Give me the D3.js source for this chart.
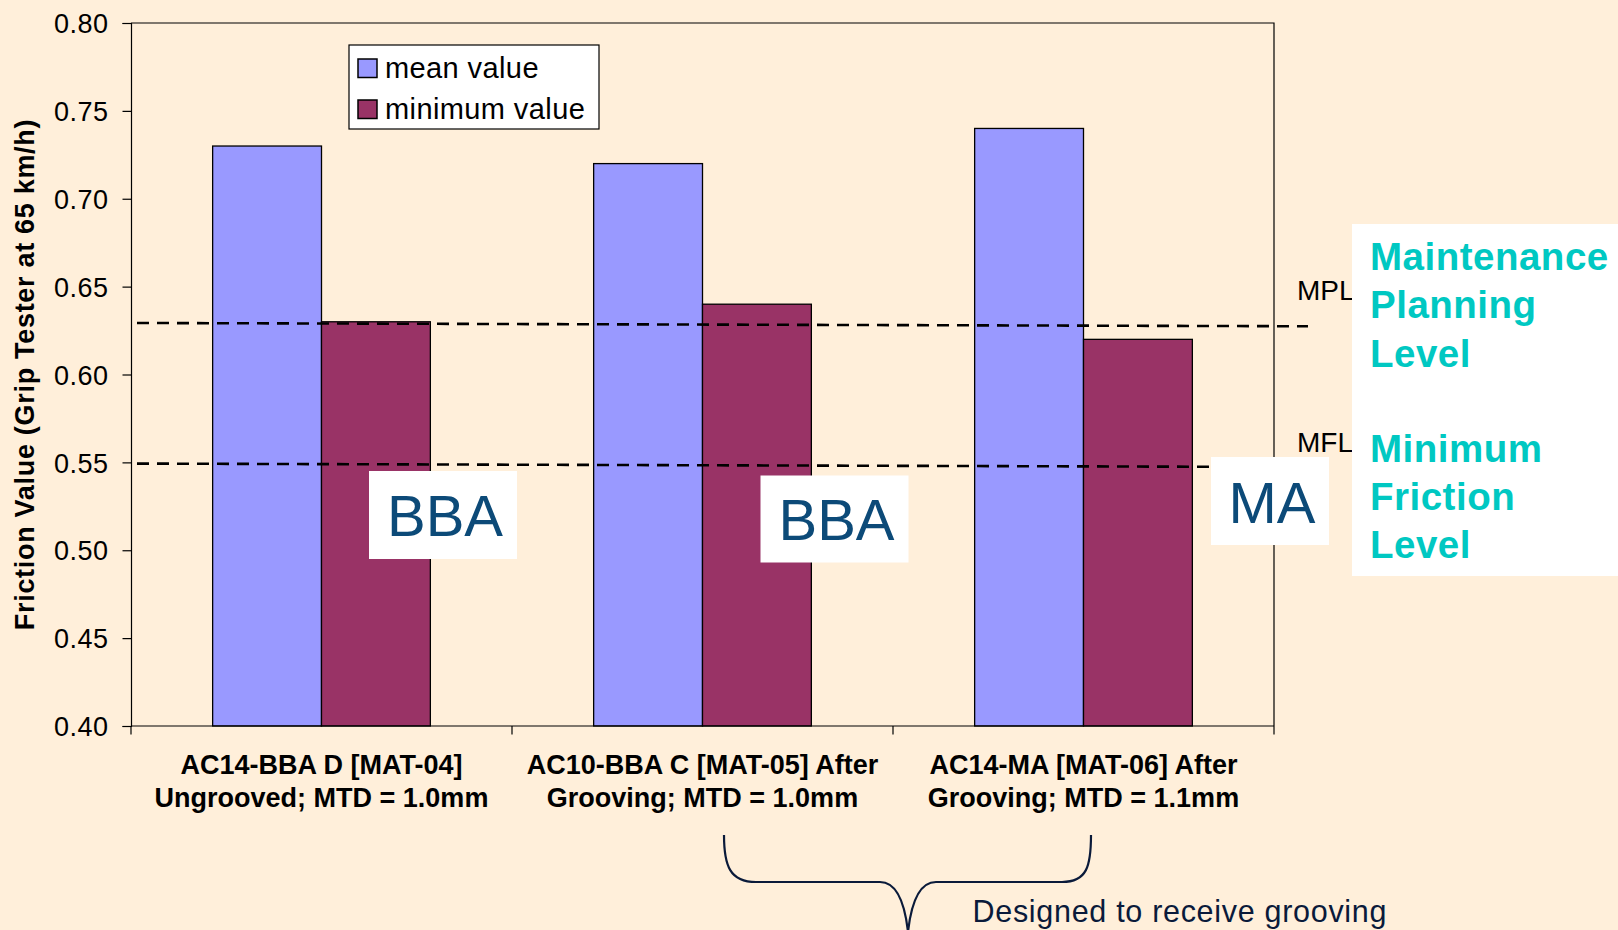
<!DOCTYPE html>
<html>
<head>
<meta charset="utf-8">
<script src="https://cdn.jsdelivr.net/npm/d3@7"></script>
<style>
	html, body { margin: 0; padding: 0; background: #FFEFDA; }
	svg { display: block; font-family: "Liberation Sans", Arial, sans-serif; }
</style>
</head>
<body>
<div id="chart"></div>
<script>
// friction values per surface
var categories = ["AC14-BBA D [MAT-04]", "AC10-BBA C [MAT-05]", "AC14-MA [MAT-06]"];
var categoryLines = [
	["AC14-BBA D [MAT-04]", "Ungrooved; MTD = 1.0mm"],
	["AC10-BBA C [MAT-05] After", "Grooving; MTD = 1.0mm"],
	["AC14-MA [MAT-06] After", "Grooving; MTD = 1.1mm"]
];
var meanValues = [0.73, 0.72, 0.74];
var minValues = [0.63, 0.64, 0.62];
var seriesNames = ["mean value", "minimum value"];
var seriesColors = ["#9999FF", "#993366"];
var yTicks = [0.40, 0.45, 0.50, 0.55, 0.60, 0.65, 0.70, 0.75, 0.80];
var mplLevel = 0.63;
var mflLevel = 0.55;
var mixTypes = ["BBA", "BBA", "MA"];
var levelNotes = [["Maintenance", "Planning", "Level"], ["Minimum", "Friction", "Level"]];

var width = 1618, height = 930;
var plot = {left: 131, right: 1274, top: 23, bottom: 726};

var svg = d3.select("#chart").append("svg")
	.attr("width", width)
	.attr("height", height);

svg.append("rect")
	.attr("width", width)
	.attr("height", height)
	.style("fill", "#FFEFDA");

var x = d3.scaleBand()
	.domain(categories)
	.range([plot.left, plot.right])
	.paddingInner(0)
	.paddingOuter(0);

// excel style gap width 150%: two bars + 1.5 bar gap per category
var barWidth = x.bandwidth() / 3.5;

var y = d3.scaleLinear()
	.domain([0.40, 0.80])
	.range([plot.bottom, plot.top]);

// plot frame (top and right edges)
svg.append("path")
	.attr("d", "M" + plot.left + "," + plot.top + "H" + plot.right + "V" + plot.bottom)
	.style("fill", "none")
	.style("stroke", "#000")
	.style("stroke-width", 1.2);

// bars
var groups = svg.selectAll(".group")
	.data(categories)
	.enter().append("g")
	.attr("class", "group")
	.attr("transform", function(d){ return "translate(" + x(d) + ",0)"; });

groups.append("rect")
	.attr("x", barWidth * 0.75)
	.attr("y", function(d, i){ return y(meanValues[i]); })
	.attr("width", barWidth)
	.attr("height", function(d, i){ return y(0.40) - y(meanValues[i]); })
	.style("fill", seriesColors[0])
	.style("stroke", "#000")
	.style("stroke-width", 1.3);

groups.append("rect")
	.attr("x", barWidth * 1.75)
	.attr("y", function(d, i){ return y(minValues[i]); })
	.attr("width", barWidth)
	.attr("height", function(d, i){ return y(0.40) - y(minValues[i]); })
	.style("fill", seriesColors[1])
	.style("stroke", "#000")
	.style("stroke-width", 1.3);

// y axis
var yAxis = d3.axisLeft(y)
	.tickValues(yTicks)
	.tickFormat(d3.format(".2f"))
	.tickSize(8.5)
	.tickPadding(14);

var yAxisG = svg.append("g")
	.attr("transform", "translate(" + plot.left + ",0)")
	.call(yAxis);
yAxisG.select(".domain").style("stroke", "#000").style("stroke-width", 1.2);
yAxisG.selectAll(".tick line").style("stroke", "#000").style("stroke-width", 1.2);
yAxisG.selectAll(".tick text")
	.style("font-size", "27px")
	.style("letter-spacing", "0.5px")
	.style("fill", "#000")
	.style("font-family", "'Liberation Sans', Arial, sans-serif")
	.attr("dy", "0.36em");

svg.append("text")
	.attr("transform", "translate(34," + ((plot.top + plot.bottom) / 2) + ") rotate(-90)")
	.attr("text-anchor", "middle")
	.style("font-size", "27px")
	.style("font-weight", "bold")
	.style("letter-spacing", "0.7px")
	.style("fill", "#000")
	.text("Friction Value (Grip Tester at 65 km/h)");

// x axis, ticks on category boundaries
var xAxisG = svg.append("g")
	.attr("transform", "translate(0," + plot.bottom + ")");
xAxisG.append("line")
	.attr("x1", plot.left)
	.attr("x2", plot.right)
	.style("stroke", "#000")
	.style("stroke-width", 1.2);
var edges = categories.map(function(d){ return x(d); }).concat([plot.right]);
xAxisG.selectAll(".edge")
	.data(edges)
	.enter().append("line")
	.attr("class", "edge")
	.attr("x1", function(d){ return d; })
	.attr("x2", function(d){ return d; })
	.attr("y1", 0)
	.attr("y2", 8.5)
	.style("stroke", "#000")
	.style("stroke-width", 1.2);

var catLabels = svg.selectAll(".catLabel")
	.data(categoryLines)
	.enter().append("text")
	.attr("class", "catLabel")
	.attr("text-anchor", "middle")
	.style("font-size", "27px")
	.style("font-weight", "bold")
	.style("fill", "#000");
catLabels.selectAll("tspan")
	.data(function(d, i){ return d.map(function(t){ return {t: t, i: i}; }); })
	.enter().append("tspan")
	.attr("x", function(d){ return x(categories[d.i]) + x.bandwidth() / 2; })
	.attr("y", function(d, j){ return 773.5 + j * 33; })
	.text(function(d){ return d.t; });

// MPL / MFL dashed levels (drawn a touch skewed like the source)
var levels = [
	{value: mplLevel, x1: 137, x2: 1308, name: "MPL", lift: 21.5},
	{value: mflLevel, x1: 137, x2: 1250, name: "MFL", lift: 10}
];
svg.selectAll(".level")
	.data(levels)
	.enter().append("line")
	.attr("class", "level")
	.attr("x1", function(d){ return d.x1; })
	.attr("x2", function(d){ return d.x2; })
	.attr("y1", function(d){ return y(d.value) + 1.2; })
	.attr("y2", function(d){ return y(d.value) + 4.5; })
	.style("stroke", "#000")
	.style("stroke-width", 2.6)
	.style("stroke-dasharray", "12,8");

svg.selectAll(".levelName")
	.data(levels)
	.enter().append("text")
	.attr("class", "levelName")
	.attr("x", 1297)
	.attr("y", function(d){ return y(d.value) - d.lift; })
	.style("font-size", "28px")
	.style("fill", "#000")
	.text(function(d){ return d.name; });

// legend
var legend = svg.append("g").attr("transform", "translate(349,45)");
legend.append("rect")
	.attr("width", 250)
	.attr("height", 84)
	.style("fill", "#fff")
	.style("stroke", "#000")
	.style("stroke-width", 1.2);
var legendItem = legend.selectAll(".legendItem")
	.data(seriesNames)
	.enter().append("g")
	.attr("class", "legendItem")
	.attr("transform", function(d, i){ return "translate(9," + (14 + i * 41) + ")"; });
legendItem.append("rect")
	.attr("width", 19)
	.attr("height", 18.5)
	.style("fill", function(d, i){ return seriesColors[i]; })
	.style("stroke", "#000")
	.style("stroke-width", 1.5);
legendItem.append("text")
	.attr("x", 27)
	.attr("y", 18.5)
	.style("font-size", "29px")
	.style("letter-spacing", "0.4px")
	.style("fill", "#000")
	.text(function(d){ return d; });

// mix type call-outs
var boxes = [
	{x: 369, y: 471, w: 148, h: 88, base: 536},
	{x: 760.5, y: 475.5, w: 148, h: 87, base: 540},
	{x: 1211, y: 457, w: 118, h: 88, base: 522.5}
];
svg.selectAll(".mixBox")
	.data(boxes)
	.enter().append("rect")
	.attr("class", "mixBox")
	.attr("x", function(d){ return d.x; })
	.attr("y", function(d){ return d.y; })
	.attr("width", function(d){ return d.w; })
	.attr("height", function(d){ return d.h; })
	.style("fill", "#fff");
svg.selectAll(".mixText")
	.data(boxes)
	.enter().append("text")
	.attr("class", "mixText")
	.attr("x", function(d){ return d.x + d.w / 2 + 2; })
	.attr("y", function(d){ return d.base; })
	.attr("text-anchor", "middle")
	.style("font-size", "58px")
	.style("fill", "#0C4A78")
	.text(function(d, i){ return mixTypes[i]; });

// level explanation panel
svg.append("rect")
	.attr("x", 1352)
	.attr("y", 224)
	.attr("width", width - 1352)
	.attr("height", 352)
	.style("fill", "#fff");
var noteBaselines = [[270, 318.3, 366.7], [462, 510, 558.3]];
levelNotes.forEach(function(lines, k){
	svg.append("text")
		.attr("x", 1370)
		.style("font-size", "38.5px")
		.style("font-weight", "bold")
		.style("letter-spacing", "0.5px")
		.style("fill", "#00C8C2")
		.selectAll("tspan")
		.data(lines)
		.enter().append("tspan")
		.attr("x", 1370)
		.attr("y", function(d, j){ return noteBaselines[k][j]; })
		.text(function(d){ return d; });
});

// brace under the grooved sections
svg.append("path")
	.attr("d", "M724,835 C724,866 730,882 756,882 L880,882 C898,882 905,905 908,932" +
		" M908,932 C911,905 918,882 936,882 L1062,882 C1087,882 1091,866 1091,835")
	.style("fill", "none")
	.style("stroke", "#0A1A3A")
	.style("stroke-width", 2.2);

svg.append("text")
	.attr("x", 972.5)
	.attr("y", 922)
	.style("font-size", "30.5px")
	.style("letter-spacing", "0.7px")
	.style("fill", "#0A1A3A")
	.text("Designed to receive grooving");
</script>
</body>
</html>
